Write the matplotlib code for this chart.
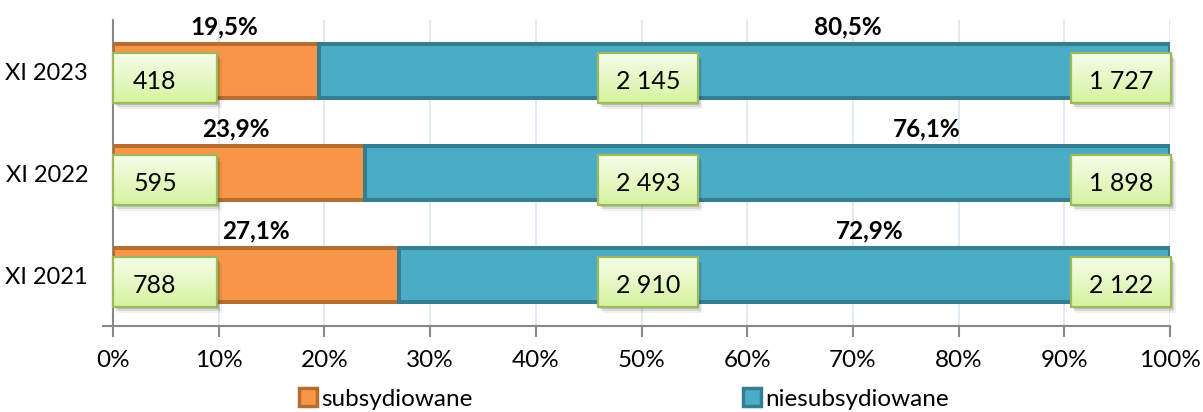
import matplotlib
matplotlib.use('Agg')
import matplotlib.pyplot as plt
import numpy as np
from matplotlib.patches import Rectangle, Patch
from matplotlib.colors import to_rgb

# ---- data ----
categories = ['XI 2021', 'XI 2022', 'XI 2023']
subsidized = [788, 595, 418]
unsubsidized = [2122, 1898, 1727]
totals = [2910, 2493, 2145]
pct_sub_labels = ['27,1%', '23,9%', '19,5%']
pct_unsub_labels = ['72,9%', '76,1%', '80,5%']
label_x_sub = [13.5, 11.6, 10.5]
label_x_unsub = [71.6, 77.0, 69.5]
series_names = ['subsydiowane', 'niesubsydiowane']
xticks = list(range(0, 101, 10))

plt.rcParams['font.family'] = ['Lato', 'DejaVu Sans']
FS = 17.5

ORANGE = '#f79646'
ORANGE_EDGE = '#b66d31'
BLUE = '#4bacc6'
BLUE_EDGE = '#357d91'
GRID = '#dce5f0'
AXIS = '#898989'

W, H = 1203, 412
fig = plt.figure(figsize=(W / 100, H / 100), dpi=100)
ax = fig.add_axes([113 / W, 86 / H, 1057 / W, 306 / H])
ax.set_xlim(0, 100)
ax.set_ylim(-0.5, 2.5)

y = np.arange(len(categories))
sub_pct = np.array(subsidized) / np.array(totals) * 100
unsub_pct = 100 - sub_pct

bar_h = 0.53
lw = 2.9
ax.barh(y, sub_pct, height=bar_h, color=ORANGE, edgecolor=ORANGE_EDGE,
        linewidth=lw, zorder=3)
ax.barh(y, unsub_pct, left=sub_pct, height=bar_h, color=BLUE,
        edgecolor=BLUE_EDGE, linewidth=lw, zorder=3)

# percentage labels
for i in range(len(categories)):
    ax.text(label_x_sub[i], y[i] + 0.43, pct_sub_labels[i], ha='center',
            va='center', fontsize=FS, fontweight='bold', zorder=8)
    ax.text(label_x_unsub[i], y[i] + 0.43, pct_unsub_labels[i], ha='center',
            va='center', fontsize=FS, fontweight='bold', zorder=8)

# boxes
top_c = np.array(to_rgb('#f6fdea'))
bot_c = np.array(to_rgb('#d5f39f'))
grad = np.linspace(0, 1, 60).reshape(-1, 1, 1)
img = top_c * (1 - grad) + bot_c * grad


def fmt(v):
    return f"{v:,}".replace(',', ' ')


def draw_box(x0, x1, cat, txt, left_text=False):
    y0 = cat - 0.314
    y1 = cat + 0.176
    w = x1 - x0
    h = y1 - y0
    for k, a in ((0.45, 0.06), (0.3, 0.10), (0.18, 0.12)):
        ax.add_patch(Rectangle((x0 + k, y0 - k * 0.12), w, h,
                               facecolor='black', alpha=a, edgecolor='none',
                               zorder=4, clip_on=False))
    ax.imshow(img, extent=[x0, x1, y0, y1], aspect='auto', origin='upper',
              zorder=5, interpolation='bilinear')
    ax.add_patch(Rectangle((x0, y0), w, h, fill=False, edgecolor='#9bbb59',
                           linewidth=1.6, zorder=6, clip_on=False))
    yc = (y0 + y1) / 2 - 0.03
    if left_text:
        ax.text(x0 + 1.9, yc, txt, ha='left', va='center', fontsize=FS + 0.5,
                zorder=7)
    else:
        ax.text((x0 + x1) / 2, yc, txt, ha='center', va='center',
                fontsize=FS + 0.5, zorder=7)


for i in range(len(categories)):
    draw_box(0.0, 9.85, y[i], fmt(subsidized[i]), left_text=True)
    draw_box(45.9, 55.3, y[i], fmt(totals[i]))
    draw_box(90.6, 100.1, y[i], fmt(unsubsidized[i]))

ax.set_xlim(0, 100)
ax.set_ylim(-0.5, 2.5)

# axes styling
ax.set_xticks(xticks)
ax.set_xticklabels([f"{t}%" for t in xticks], fontsize=FS)
ax.set_yticks(y)
ax.set_yticklabels(categories, fontsize=FS - 0.5)
ax.set_yticks([-0.5], minor=True)
ax.tick_params(axis='x', length=8, width=1.5, color=AXIS, direction='out',
               pad=9)
ax.tick_params(axis='y', which='major', length=0, pad=18)
ax.tick_params(axis='y', which='minor', length=8, width=1.5, color=AXIS)
for s in ('top', 'right'):
    ax.spines[s].set_visible(False)
for s in ('left', 'bottom'):
    ax.spines[s].set_color(AXIS)
    ax.spines[s].set_linewidth(1.5)
ax.grid(axis='x', color=GRID, linewidth=1.2, zorder=0)
ax.set_axisbelow(True)

# legend
for name, fc, ec, xpos in ((series_names[0], ORANGE, ORANGE_EDGE, 299),
                           (series_names[1], BLUE, BLUE_EDGE, 743)):
    fig.legend(handles=[Patch(facecolor=fc, edgecolor=ec, linewidth=2.5)],
               labels=[name], loc='center left',
               bbox_to_anchor=(xpos / W, 13 / H), frameon=False,
               borderaxespad=0, borderpad=0, fontsize=FS,
               handlelength=0.72, handleheight=0.72, handletextpad=0.2)

fig.savefig('out.png', dpi=100)
